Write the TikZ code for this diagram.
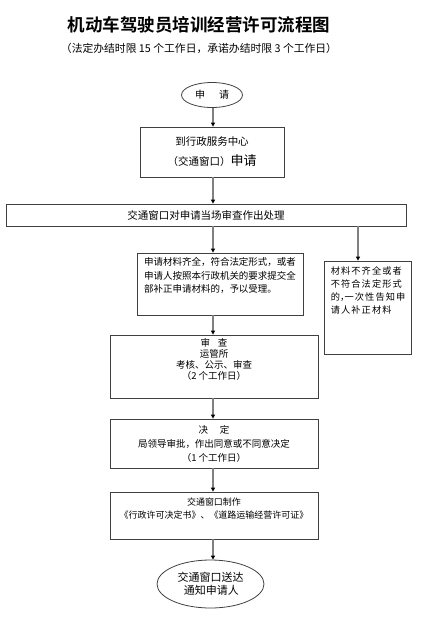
\documentclass[tikz,border=0pt]{standalone}
\usepackage{fontspec}
\setmainfont{Noto Sans CJK SC}[BoldFont={Noto Sans CJK SC Bold}]
\newfontfamily\widefont[LetterSpace=12]{Noto Sans CJK SC}
\newcommand{\halfcomma}{{\addfontfeature{RawFeature=+halt}，}}
\usetikzlibrary{arrows.meta,shapes.geometric,positioning}

\begin{document}
\begin{tikzpicture}[x=1pt, y=-1pt,
    box/.style={draw=black!75, line width=0.8pt, rectangle, inner sep=0pt},
    oval/.style={draw=black!75, line width=0.8pt, ellipse, inner sep=0pt},
    flow/.style={draw=black!50, line width=1.3pt, -{Triangle[length=4pt, width=4pt, color=black]}},
    txt/.style={inner sep=0pt, align=center, font=\fontsize{9.5}{11}\selectfont}
  ]

    \useasboundingbox (0,0) rectangle (428,625);

    % Title
    \node[inner sep=0pt, font=\fontsize{17.5}{20}\selectfont\bfseries] (title) at (199,25) {机动车驾驶员培训经营许可流程图};
    \node[inner sep=0pt, font=\fontsize{10.8}{13}\selectfont] (subtitle) at (199,48) {（法定办结时限 15 个工作日，承诺办结时限 3 个工作日）};

    % Boxes
    \node[oval, minimum width=61, minimum height=25, font=\fontsize{10}{12}\selectfont] (start) at (212,95) {申\hspace{14pt}请};
    \node[box, minimum width=144, minimum height=50, align=center, font=\fontsize{10.5}{20}\selectfont] (apply) at (212,152)
        {到行政服务中心\\（交通窗口）{\fontsize{13}{20}\selectfont 申请}};
    \node[box, minimum width=400, minimum height=22, font=\fontsize{10.5}{12}\selectfont] (check) at (206,215) {交通窗口对申请当场审查作出处理};

    \node[box, minimum width=166, minimum height=62] (accept) at (220,284) {};
    \node[txt, anchor=north, align=left, font=\fontsize{9.5}{13.5}\selectfont] (acceptText) at ([yshift=-5]accept.north)
        {申请材料齐全，符合法定形式，或者\\申请人按照本行政机关的要求提交全\\部补正申请材料的，予以受理。};

    \node[box, minimum width=87, minimum height=93] (reject) at (367.5,307.5) {};
    \node[txt, anchor=north west, align=left, font=\fontsize{9.2}{12.8}\selectfont\widefont] (rejectText) at ([xshift=7, yshift=-6]reject.north west)
        {材料不齐全或者\\不符合法定形式\\的\halfcomma 一次性告知申\\请人补正材料};

    \node[box, minimum width=208, minimum height=63] (review) at (214,366.5) {};
    \node[txt, anchor=north, font=\fontsize{9.5}{10.8}\selectfont] (reviewText) at ([yshift=-4]review.north)
        {审\hspace{8pt}查\\运管所\\考核、公示、审查\\（2 个工作日）};

    \node[box, minimum width=208, minimum height=49, align=center, font=\fontsize{9.5}{14}\selectfont] (decide) at (214,443.5)
        {决\hspace{12pt}定\\局领导审批，作出同意或不同意决定\\（1 个工作日）};

    \node[box, minimum width=208, minimum height=47] (issue) at (214,515.5) {};
    \node[txt, anchor=north, font=\fontsize{9}{13}\selectfont] (issueText) at ([yshift=-6]issue.north)
        {交通窗口制作\\《行政许可决定书》、《道路运输经营许可证》};

    \node[oval, minimum width=107, minimum height=48, align=center, font=\fontsize{11}{13}\selectfont] (finish) at (210.5,584)
        {交通窗口送达\\ \,通知申请人};

    % Spine at x = 213
    \coordinate (spine) at (213,0);
    \coordinate (branch) at (358,0);

    % Connectors
    \draw[flow] (start.south -| spine) -- (apply.north -| spine);
    \draw[flow] (apply.south -| spine) -- (check.north -| spine);
    \draw[flow] (check.south -| spine) -- (accept.north -| spine);
    \draw[flow] (check.south -| branch) -- (reject.north -| branch);
    \draw[flow] (accept.south -| spine) -- (review.north -| spine);
    \draw[flow] (review.south -| spine) -- (decide.north -| spine);
    \draw[flow] (decide.south -| spine) -- (issue.north -| spine);
    \draw[flow] (issue.south -| spine) -- (finish.north -| spine);
\end{tikzpicture}
\end{document}
